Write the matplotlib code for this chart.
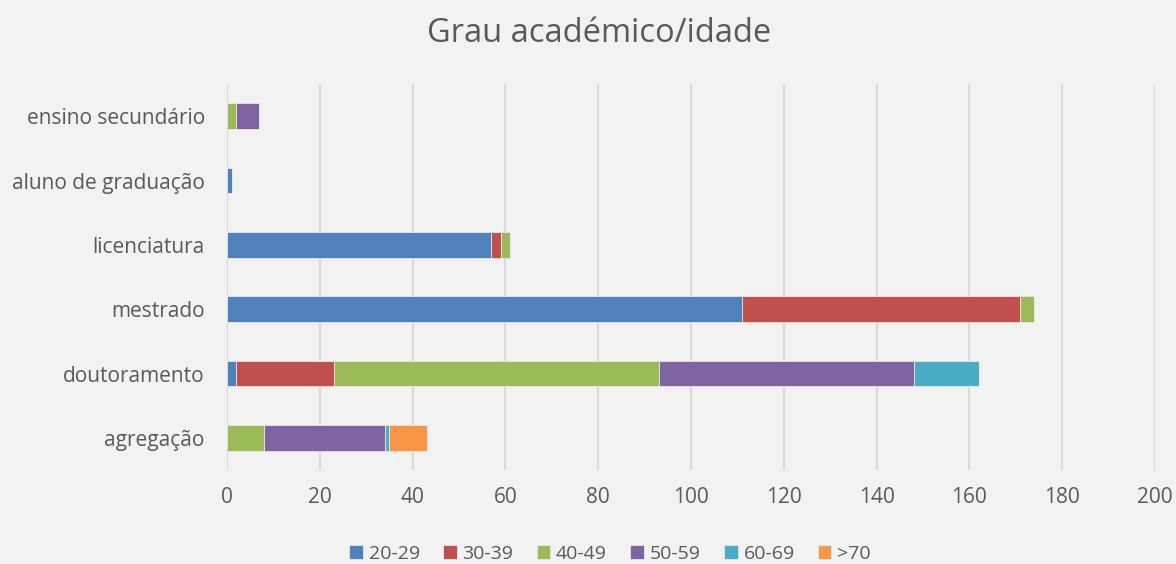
import matplotlib.pyplot as plt
import numpy as np

# categories from bottom to top
categories = ['agregação', 'doutoramento', 'mestrado', 'licenciatura',
              'aluno de graduação', 'ensino secundário']
age_groups = ['20-29', '30-39', '40-49', '50-59', '60-69', '>70']

v_20_29 = [0, 2, 111, 57, 1, 0]
v_30_39 = [0, 21, 60, 2, 0, 0]
v_40_49 = [8, 70, 3, 2, 0, 2]
v_50_59 = [26, 55, 0, 0, 0, 5]
v_60_69 = [1, 14, 0, 0, 0, 0]
v_70 = [8, 0, 0, 0, 0, 0]

series = [v_20_29, v_30_39, v_40_49, v_50_59, v_60_69, v_70]
colors = ['#4F81BD', '#C0504D', '#9BBB59', '#8064A2', '#4BACC6', '#F79646']

plt.rcParams['font.family'] = ['Open Sans', 'DejaVu Sans']
bg = '#F2F2F2'

fig = plt.figure(figsize=(11.76, 5.64), dpi=100, facecolor=bg)
ax = fig.add_axes([227 / 1176, 1 - 470 / 564, (1155 - 227) / 1176, (470 - 84) / 564])
ax.set_facecolor(bg)

y = np.arange(len(categories))
left = np.zeros(len(categories))
for vals, col, lab in zip(series, colors, age_groups):
    ax.barh(y, vals, left=left, height=0.4, color=col, label=lab,
            edgecolor='#E8E8E8', linewidth=0.6, zorder=3)
    left += np.array(vals)

ax.set_xlim(0, 200)
ax.set_ylim(-0.5, len(categories) - 0.5)
ax.set_xticks(np.arange(0, 201, 20))
ax.set_yticks(y)
ax.set_yticklabels(categories)
ax.xaxis.grid(True, color='#D9D9D9', linewidth=1.5, zorder=0)
ax.tick_params(axis='both', length=0, labelsize=15, labelcolor='#595959')
ax.tick_params(axis='x', pad=12)
ax.tick_params(axis='y', pad=16)
for s in ax.spines.values():
    s.set_visible(False)

fig.text(599 / 1176, 1 - 33 / 564, 'Grau académico/idade', ha='center', va='center',
         fontsize=23.5, color='#595959')

fig.legend(loc='center', bbox_to_anchor=(610 / 1176, 1 - 554 / 564), ncol=6,
           frameon=False, fontsize=14, labelcolor='#595959',
           handlelength=0.7, handleheight=0.7, handletextpad=0.3,
           columnspacing=1.2)

fig.savefig('out.png', dpi=100, facecolor=bg)
